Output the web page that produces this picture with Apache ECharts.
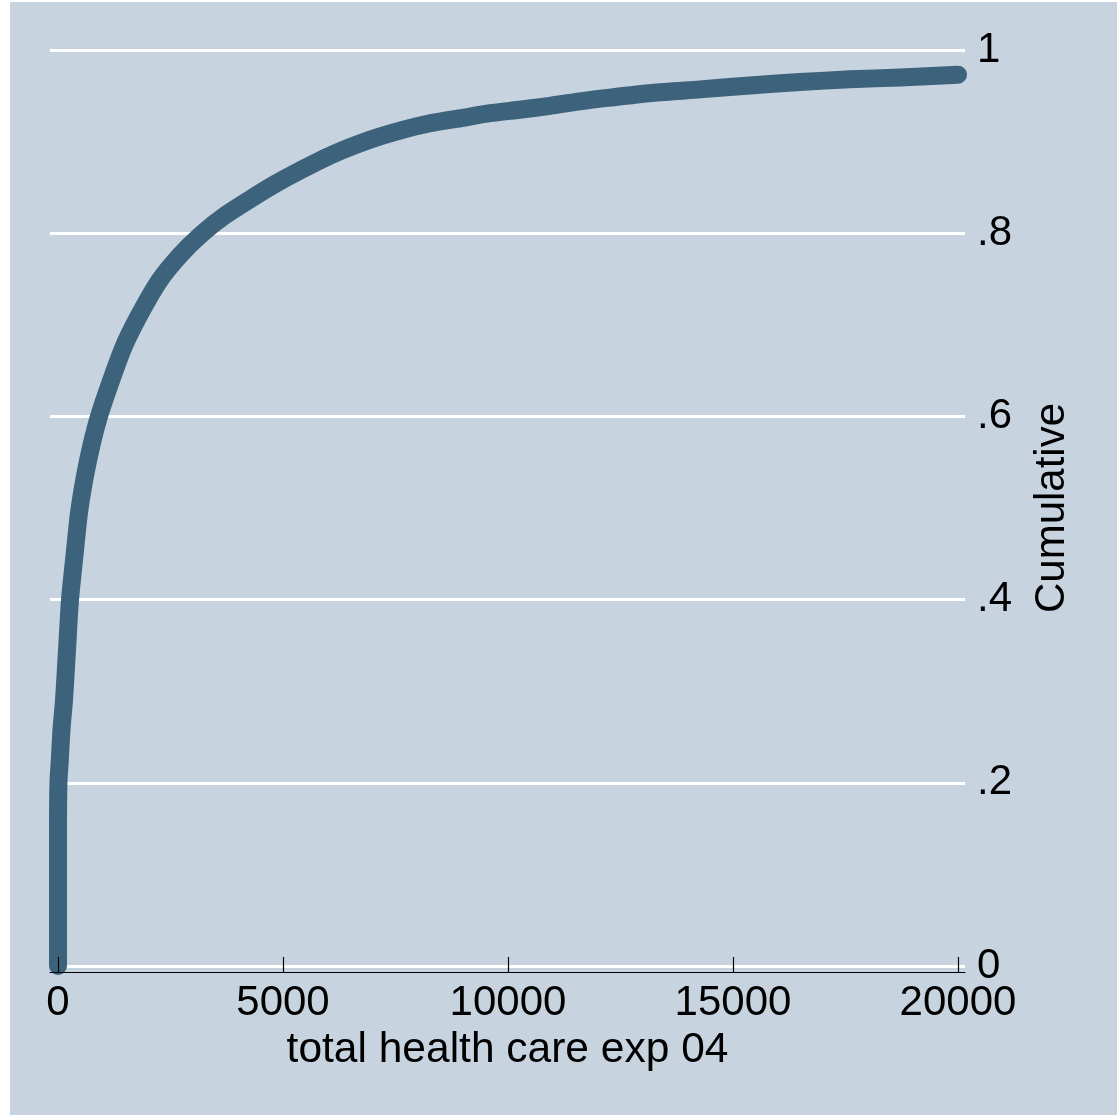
<!DOCTYPE html>
<html>
<head>
<meta charset="utf-8">
<script src="https://cdn.jsdelivr.net/npm/echarts@6/dist/echarts.min.js"></script>
<style>
  html, body { margin: 0; padding: 0; background: #ffffff; }
  #chart { position: absolute; left: 10px; top: 2px; width: 1107px; height: 1113px; }
</style>
</head>
<body>
<div id="chart"></div>
<script>
// Cumulative distribution of total health care expenditure, 2004
const expenditure = [0, 0, 10, 40, 80, 133, 200, 267, 370, 467, 600, 750, 911, 1150, 1450, 1800,
  2250, 2711, 3189, 3700, 4267, 4800, 5400, 6100, 6933, 7600, 8267, 9000, 9600, 10300, 10933,
  11600, 12267, 13200, 14267, 15300, 16489, 17600, 18711, 20000];
const cumulative = [0, 0.15, 0.20, 0.225, 0.26, 0.29, 0.345, 0.40, 0.45, 0.495, 0.535, 0.57, 0.60,
  0.635, 0.675, 0.71, 0.748, 0.776, 0.799, 0.819, 0.837, 0.853, 0.869, 0.886, 0.902, 0.912, 0.920,
  0.926, 0.931, 0.935, 0.939, 0.944, 0.948, 0.953, 0.957, 0.961, 0.965, 0.968, 0.970, 0.973];
const xTicks = [0, 5000, 10000, 15000, 20000];
const yTicks = [0, 0.2, 0.4, 0.6, 0.8, 1];
const yTickLabels = ['0', '.2', '.4', '.6', '.8', '1'];

const points = expenditure.map((v, i) => [v, cumulative[i]]);
const font = '"Liberation Sans", Arial, Helvetica, sans-serif';
const xMin = -178, xMax = 20156;

const chart = echarts.init(document.getElementById('chart'), null, { renderer: 'canvas' });
chart.setOption({
  animation: false,
  backgroundColor: '#c7d3df',
  grid: [
    // plot area: gridlines and the curve
    { left: 40, right: 152, top: 48, bottom: 149, containLabel: false },
    // x axis sits a few pixels below the zero gridline
    { left: 40, right: 152, top: 48, bottom: 143, containLabel: false }
  ],
  xAxis: [{
    gridIndex: 0,
    type: 'value', min: xMin, max: xMax,
    show: false
  }, {
    gridIndex: 1,
    type: 'value', min: xMin, max: xMax,
    z: 3,
    name: 'total health care exp 04',
    nameLocation: 'middle',
    nameGap: 50,
    nameTextStyle: { fontFamily: font, fontSize: 42.5, color: '#000' },
    axisLine: { show: true, lineStyle: { color: '#000', width: 1.2 } },
    axisTick: { show: true, inside: true, length: 15, customValues: xTicks, lineStyle: { color: '#000', width: 1.2 } },
    axisLabel: {
      customValues: xTicks, margin: 10, fontFamily: font, fontSize: 42, color: '#000',
      formatter: function (v) { return String(v); }
    },
    splitLine: { show: false }
  }],
  yAxis: [{
    gridIndex: 0,
    type: 'value',
    position: 'right',
    min: 0,
    max: 1,
    interval: 0.2,
    name: 'Cumulative',
    nameLocation: 'middle',
    nameRotate: 90,
    nameGap: 66,
    nameTextStyle: { fontFamily: font, fontSize: 42, color: '#000' },
    axisLine: { show: false },
    axisTick: { show: false },
    axisLabel: {
      margin: 12,
      fontFamily: font, fontSize: 42, color: '#000',
      formatter: function (v) {
        const i = yTicks.findIndex(t => Math.abs(t - v) < 1e-9);
        return i >= 0 ? yTickLabels[i] : '';
      }
    },
    splitLine: { show: true, lineStyle: { color: '#ffffff', width: 3 } }
  }, {
    gridIndex: 1,
    type: 'value', min: 0, max: 1,
    show: false
  }],
  series: [{
    type: 'line',
    xAxisIndex: 0,
    yAxisIndex: 0,
    data: points,
    showSymbol: false,
    smooth: 0.25,
    lineStyle: { color: '#3d627c', width: 18, cap: 'round', join: 'round' },
    z: 2
  }]
});
</script>
</body>
</html>
